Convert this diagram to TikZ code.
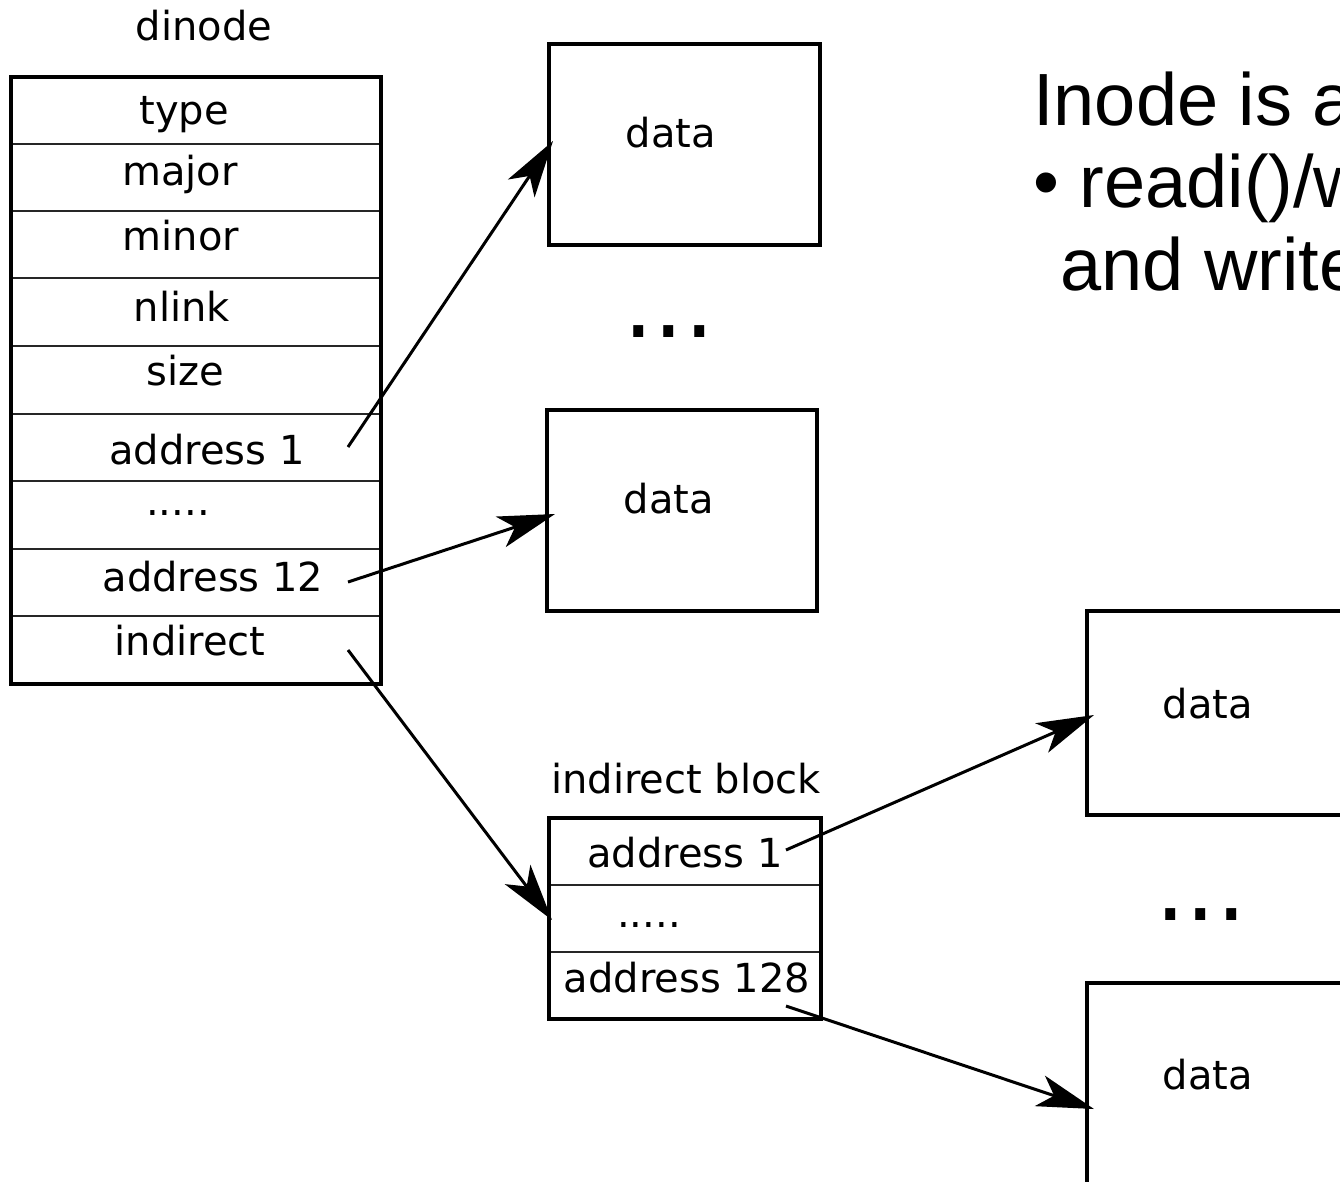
\documentclass[tikz,border=0pt]{standalone}
\usepackage{fontspec}
\setmainfont{DejaVu Sans}
\newfontfamily\arialfont{Liberation Sans}
\usetikzlibrary{arrows.meta}
\begin{document}
\begin{tikzpicture}[x=1pt,y=-1pt,
  lbl/.style={font=\fontsize{40}{48}\selectfont, inner sep=0, anchor=base},
  dotslbl/.style={font=\fontsize{96}{110}\selectfont, inner sep=0, anchor=base},
  slide/.style={font=\arialfont\fontsize{74}{88}\selectfont, inner sep=0, anchor=base west},
  box/.style={draw, line width=4pt, inner sep=0, outer sep=0},
  rowline/.style={line width=2pt, draw=black!85},
  conn/.style={line width=3pt, -{Stealth[length=57pt,width=32pt,inset=15pt]}},
]
\useasboundingbox (0,0) rectangle (1340,1181);
\clip (0,0) rectangle (1340,1181);

% dinode table
\node[box, minimum width=370pt, minimum height=607pt] (dinode) at (196,380.5) {};
\foreach \yy in {144,211,278,346,414,481,549,616}
  \draw[rowline] (13,\yy) -- (379,\yy);
\node[lbl] (ldinode) at (204,40) {dinode};
\node[lbl] (ltype) at (184,124) {type};
\node[lbl] (lmajor) at (180,185) {major};
\node[lbl] (lminor) at (181,250) {minor};
\node[lbl] (lnlink) at (182,321) {nlink};
\node[lbl] (lsize) at (185,385) {size};
\node[lbl] (laddr1) at (207,464) {address 1};
\node[lbl] (ldots) at (178,515) {.....};
\node[lbl] (laddr12) at (213,591) {address 12};
\node[lbl] (lind) at (190,655) {indirect};

% direct data blocks
\node[box, minimum width=271pt, minimum height=201pt] (d1) at (684.5,144.5) {};
\node[lbl] (ld1) at (671,147) {data};
\node[dotslbl] (dotsA) at (669,337) {...};
\node[box, minimum width=270pt, minimum height=201pt] (d2) at (682,510.5) {};
\node[lbl] (ld2) at (669,513) {data};

% indirect block
\node[box, minimum width=272pt, minimum height=201pt] (ib) at (685,918.5) {};
\foreach \yy in {885,952}
  \draw[rowline] (551,\yy) -- (819,\yy);
\node[lbl] (lib) at (686,793) {indirect block};
\node[lbl] (libaddr1) at (685,867) {address 1};
\node[lbl] (libdots) at (649,927) {.....};
\node[lbl] (libaddr128) at (687,992) {address 128};

% indirect data blocks
\node[box, minimum width=271pt, minimum height=204pt] (d3) at (1222.5,713) {};
\node[lbl] (ld3) at (1208,718) {data};
\node[dotslbl] (dotsB) at (1201,920) {...};
\node[box, minimum width=271pt, minimum height=204pt] (d4) at (1222.5,1085) {};
\node[lbl] (ld4) at (1208,1089) {data};

% slide text
\node[slide] (t1line) at (1033,125) {Inode is a};
\node[slide] (t2line) at (1033,207) {• readi()/w};
\node[slide] (t3line) at (1060,290) {and write};

% connectors
\coordinate (s1) at (348,447);  \coordinate (e1) at (553,141);
\coordinate (s2) at (348,582);  \coordinate (e2) at (555,514);
\coordinate (s3) at (348,650);  \coordinate (e3) at (552,920);
\coordinate (s4) at (786,850);  \coordinate (e4) at (1094,715);
\coordinate (s5) at (786,1006); \coordinate (e5) at (1094,1109);
\draw[conn] (s1) -- (e1);
\draw[conn] (s2) -- (e2);
\draw[conn] (s3) -- (e3);
\draw[conn] (s4) -- (e4);
\draw[conn] (s5) -- (e5);
\end{tikzpicture}
\end{document}
